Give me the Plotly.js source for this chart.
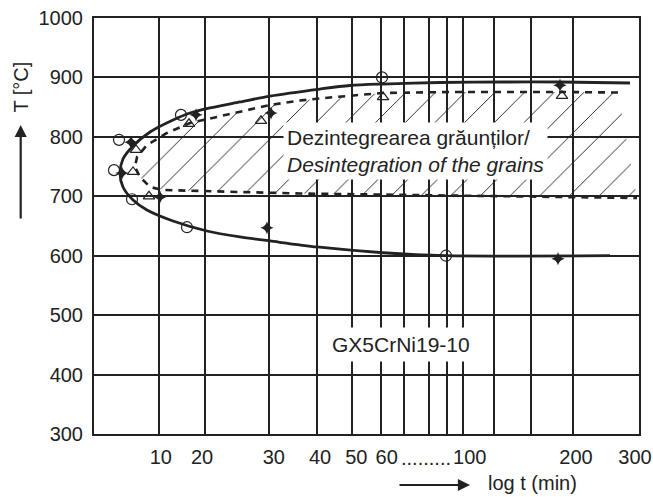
<!DOCTYPE html>
<html>
<head>
<meta charset="utf-8">
<script src="https://cdn.plot.ly/plotly-3.0.1.min.js"></script>
<style>html,body{margin:0;padding:0;background:#fff;}#chart{width:653px;height:497px;}</style>
</head>
<body>
<div id="chart"></div>
<script>
// x positions are given in "axis position" units (0 = left frame, 100 = right frame),
// because the original time axis is a hand-drawn, non-uniform "log t" scale.
const xLabelPos  = [12.26, 19.82, 32.99, 41.47, 48.13, 53.71, 68.94, 88.44, 99.27];
const xLabelText = ["10", "20", "30", "40", "50", "60", "100", "200", "300"];
const xGridPos   = [11.98, 20.31, 32.17, 40.97, 47.34, 52.72, 56.88, 61.52, 64.72, 67.76, 73.39, 80.24, 87.94];
const yTickVals  = [300, 400, 500, 600, 700, 800, 900, 1000];

// outer solid boundary (C-curve)
const outerX = [98.35, 85.50, 75.05, 63.49, 52.84, 46.97, 41.47, 32.29, 26.79, 21.28, 17.61, 14.50, 10.28, 7.16, 5.32, 4.77,
                5.32, 7.16, 9.72, 14.50, 20.73, 26.79, 32.29, 40.92, 53.03, 64.40, 94.68];
const outerT = [890.6, 892.3, 892.3, 891.5, 888.9, 886.4, 880.5, 868.7, 858.7, 848.6, 840.1, 828.4, 808.2, 784.6, 762.7, 739.2,
                715.6, 693.7, 676.9, 658.4, 641.6, 631.5, 624.8, 614.7, 605.0, 600.0, 600.0];

// inner dashed boundary (hatched region)
const innerX = [96.15, 85.50, 65.32, 52.84, 43.30, 37.80, 32.29, 28.07, 22.57, 17.61, 13.39, 9.72, 7.89, 7.52,
                8.44, 10.28, 12.66, 17.61, 26.79, 37.80, 56.15, 74.50, 99.63];
const innerT = [874.6, 875.5, 875.5, 873.8, 866.2, 861.2, 853.6, 845.2, 833.4, 823.3, 806.5, 786.3, 766.1, 749.3,
                732.4, 715.6, 710.6, 709.7, 707.2, 704.7, 702.2, 699.6, 697.1];

// measured points
const circleX = [4.59, 3.67, 6.97, 15.96, 17.06, 52.84, 64.59];
const circleT = [795, 744, 695, 837, 648, 900, 600];
const starX   = [6.79, 5.14, 12.11, 18.72, 32.48, 31.74, 85.50, 85.14];
const starT   = [791, 739, 699, 837, 840, 647, 887, 595];
const triX    = [7.71, 7.16, 10.09, 17.43, 30.64, 53.03, 85.87];
const triT    = [778, 741, 700, 822, 827, 867, 869];

const FONT = "Liberation Sans, Arial, Helvetica, sans-serif";
const INK = "#222";

const traces = [
  {
    x: innerX, y: innerT, mode: "lines", type: "scatter",
    line: {color: INK, width: 2.6, dash: "7px,6px"},
    fill: "toself", fillcolor: "rgba(0,0,0,0)",
    fillpattern: {shape: "/", size: 21, solidity: 0.045, fgcolor: INK, bgcolor: "rgba(0,0,0,0)"},
    hoverinfo: "skip"
  },
  {
    x: outerX, y: outerT, mode: "lines", type: "scatter",
    line: {color: INK, width: 2.8, shape: "spline", smoothing: 0.8}
  },
  {
    x: circleX, y: circleT, mode: "markers", type: "scatter",
    marker: {symbol: "circle-open", size: 11, color: INK, line: {width: 1.2, color: INK}}
  },
  {
    x: triX, y: triT, mode: "markers", type: "scatter",
    marker: {symbol: "triangle-up-open", size: 10, color: INK, line: {width: 1.2, color: INK}}
  },
  {
    x: starX, y: starT, mode: "markers", type: "scatter",
    marker: {symbol: "star-diamond", size: 9.5, color: INK, line: {width: 0}}
  }
];

const layout = {
  width: 653, height: 497,
  margin: {l: 94, r: 14, t: 18, b: 63},
  paper_bgcolor: "#fff", plot_bgcolor: "#fff",
  showlegend: false,
  font: {family: FONT, size: 20, color: INK},
  xaxis: {
    type: "linear", range: [0, 100], fixedrange: true,
    tickmode: "array", tickvals: xLabelPos, ticktext: xLabelText,
    showgrid: false, zeroline: false, ticks: "",
    ticklabelstandoff: 4,
    showline: true, mirror: true, linecolor: INK, linewidth: 2,
    tickfont: {family: FONT, size: 20, color: INK},
    minor: {tickmode: "array", tickvals: xGridPos, showgrid: true, gridcolor: INK, gridwidth: 1.8, ticks: ""}
  },
  yaxis: {
    type: "linear", range: [300, 1000], fixedrange: true,
    tickmode: "array", tickvals: yTickVals,
    showgrid: true, gridcolor: INK, gridwidth: 2, zeroline: false, ticks: "",
    ticklabelstandoff: 5,
    showline: true, mirror: true, linecolor: INK, linewidth: 2,
    tickfont: {family: FONT, size: 20, color: INK}
  },
  annotations: [
    {xref: "paper", yref: "paper", x: -0.134, y: 0.835, text: "T [°C]", textangle: -90,
     showarrow: false, xanchor: "center", yanchor: "middle", font: {family: FONT, size: 20, color: INK}},
    {xref: "paper", yref: "paper", x: -0.1345, y: 0.7428, ax: 0, ay: 95, axref: "pixel", ayref: "pixel",
     text: "", showarrow: true, arrowhead: 2, arrowsize: 1.1, arrowwidth: 2.2, arrowcolor: INK, standoff: 0},
    {xref: "paper", yref: "paper", x: 0.6899, y: -0.1226, ax: -72, ay: 0,
     text: "", showarrow: true, arrowhead: 2, arrowsize: 1.1, arrowwidth: 2.2, arrowcolor: INK, standoff: 0},
    {xref: "paper", yref: "paper", x: 0.8055, y: -0.1178, text: "log t (min)", showarrow: false,
     xanchor: "center", yanchor: "middle", font: {family: FONT, size: 20, color: INK}},
    {xref: "x", yref: "paper", x: 60.88, y: -0.027, text: ".........", showarrow: false,
     xanchor: "center", yanchor: "top", font: {family: FONT, size: 20, color: INK}},
    {xref: "x", yref: "y", x: 59.08, y: 776, text: "Dezintegrearea grăunților/<br><i>Desintegration of the grains</i>",
     showarrow: false, align: "left", xanchor: "center", yanchor: "middle", bgcolor: "#fff", borderpad: 3,
     font: {family: FONT, size: 21, color: INK}},
    {xref: "x", yref: "y", x: 56.33, y: 450, text: "GX5CrNi19-10", showarrow: false,
     xanchor: "center", yanchor: "middle", bgcolor: "#fff", borderpad: 5,
     font: {family: FONT, size: 21, color: INK}}
  ]
};

Plotly.newPlot("chart", traces, layout, {staticPlot: true, displayModeBar: false});
</script>
</body>
</html>
